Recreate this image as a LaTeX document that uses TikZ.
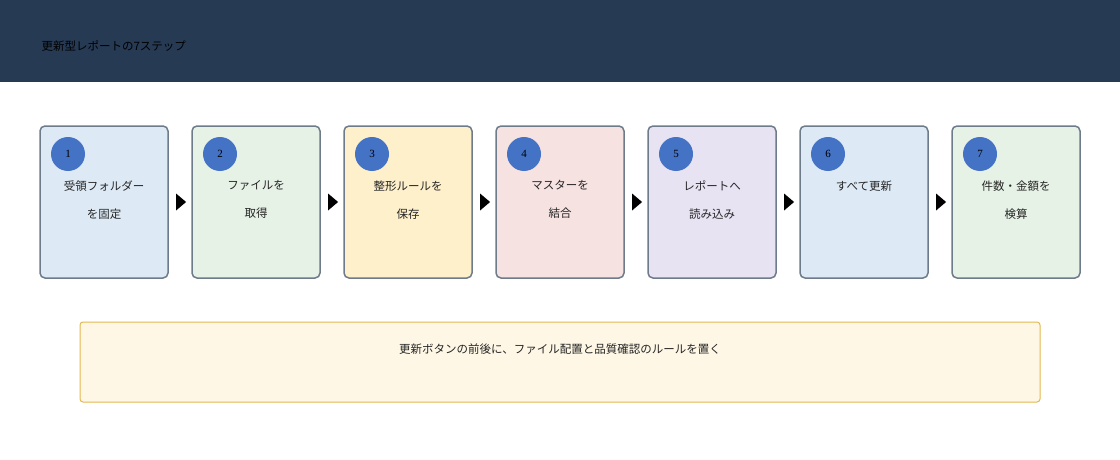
\documentclass[tikz,border=0pt]{standalone}
\usepackage{fontspec}
\setmainfont{Liberation Serif}
\newfontfamily\cjk{Noto Sans CJK JP}
\usetikzlibrary{shapes.geometric}
\definecolor{hdr}{HTML}{263A54}
\definecolor{bd}{HTML}{6E7B8B}
\definecolor{cir}{HTML}{4472C4}
\definecolor{fa}{HTML}{DDEAF6}
\definecolor{fb}{HTML}{E7F2E7}
\definecolor{fc}{HTML}{FEF0CB}
\definecolor{fd}{HTML}{F6E2E1}
\definecolor{fe}{HTML}{E8E3F3}
\definecolor{nf}{HTML}{FEF7E6}
\definecolor{nb}{HTML}{E2B94E}
\tikzset{
 box/.style={draw=bd,line width=1.5pt,rounded corners=5pt,minimum width=128pt,minimum height=152pt,inner sep=0},
 num/.style={circle,fill=cir,minimum size=34pt,inner sep=0,font=\fontsize{11}{11}\selectfont},
 lbl/.style={anchor=north,align=center,font=\cjk\fontsize{11.5}{28}\selectfont,text=black!85},
 arr/.style={isosceles triangle,fill=black,minimum height=10pt,minimum width=17pt,inner sep=0,isosceles triangle stretches},
}
\begin{document}
\begin{tikzpicture}[x=1pt,y=-1pt]
\useasboundingbox (0,0) rectangle (1120,460);
\fill[hdr] (0,0) rectangle (1120,82);
\node[anchor=west,font=\cjk\fontsize{11.5}{12}\selectfont,text=black] (title) at (38,46) {更新型レポートの7ステップ};
\foreach \i/\c/\t in {1/fa/{受領フォルダー\\を固定},2/fb/{ファイルを\\取得},3/fc/{整形ルールを\\保存},4/fd/{マスターを\\結合},5/fe/{レポートへ\\読み込み},6/fa/{すべて更新},7/fb/{件数・金額を\\検算}}{
 \node[box,fill=\c] (b\i) at ({104+152*(\i-1)},202) {};
 \node[num] (n\i) at ({68+152*(\i-1)},154) {\i};
 \node[lbl] (l\i) at ({104+152*(\i-1)},177) {\t};
}
\foreach \i [evaluate=\i as \j using int(\i+1)] in {1,...,6}{
 \path (b\i.east) -- node[arr] (a\i) {} (b\j.west);
}
\node[draw=nb,fill=nf,line width=1pt,rounded corners=3pt,minimum width=960pt,minimum height=80pt,inner sep=0] (note) at (560,362) {};
\node[anchor=north,font=\cjk\fontsize{11.5}{12}\selectfont,text=black!85] (notet) at (560,340) {更新ボタンの前後に、ファイル配置と品質確認のルールを置く};
\end{tikzpicture}
\end{document}
